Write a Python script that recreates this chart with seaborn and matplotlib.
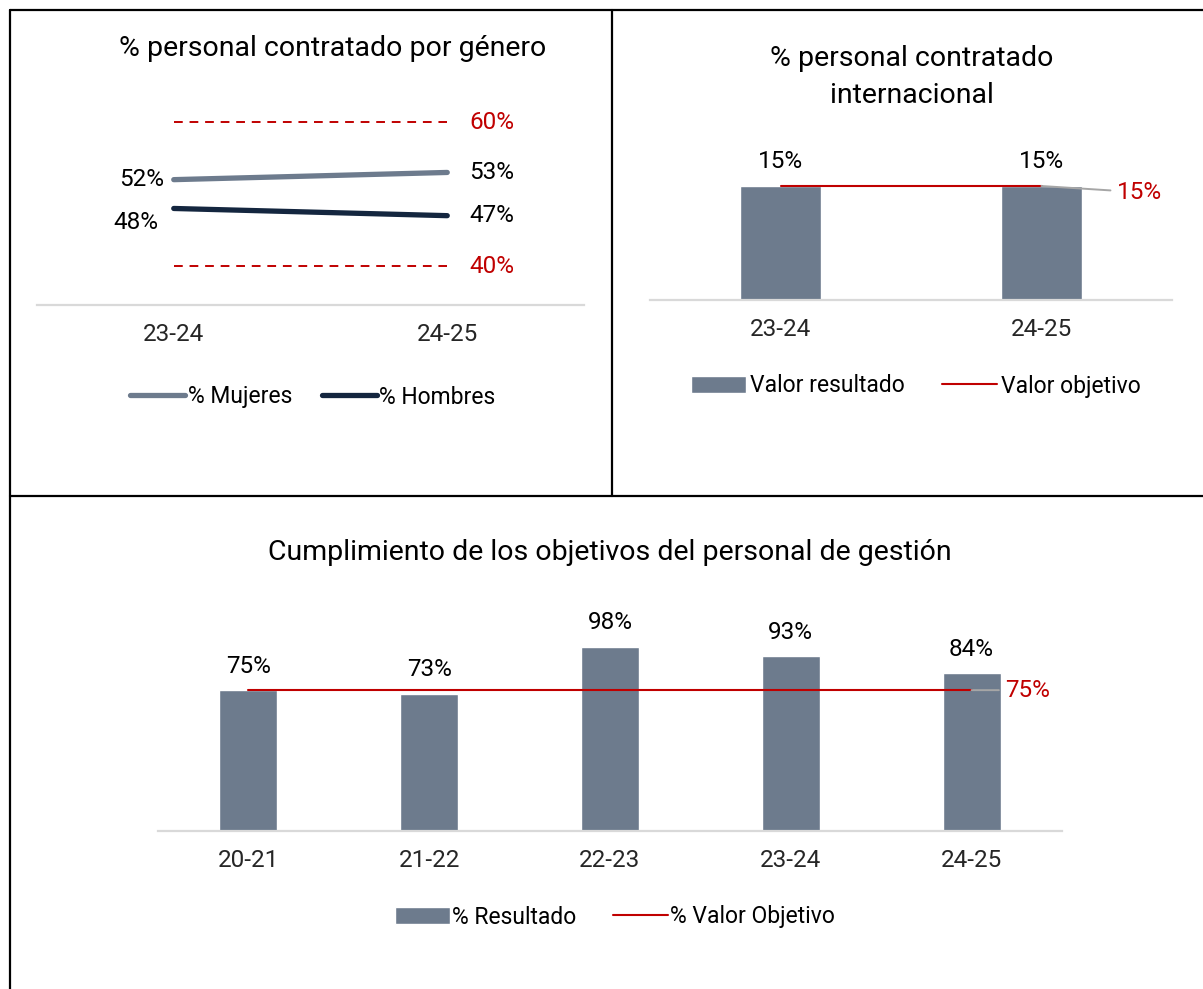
import pandas as pd
import matplotlib.pyplot as plt
import seaborn as sns
from matplotlib.lines import Line2D

# --- datos ---
cursos_genero = ["23-24", "24-25"]
pct_mujeres = [52, 53]
pct_hombres = [48, 47]
limite_sup = [60, 60]
limite_inf = [40, 40]

cursos_int = ["23-24", "24-25"]
int_resultado = [15, 15]
int_objetivo = [15, 15]

cursos_gestion = ["20-21", "21-22", "22-23", "23-24", "24-25"]
gestion_resultado = [75, 73, 98, 93, 84]
gestion_objetivo = [75, 75, 75, 75, 75]

GRIS = "#6D7B8D"
AZUL = "#14263F"
ROJO = "#C00000"
EJE = "#D9D9D9"
GUIA = "#A6A6A6"

FS_TIT = 20.5
FS_TXT = 17.5
FS_LEY = 16.5

sns.set_style("white")
plt.rcParams["font.family"] = ["Roboto", "DejaVu Sans"]
plt.rcParams["text.color"] = "black"

W, H = 1203, 989
fig = plt.figure(figsize=(W / 100, H / 100), dpi=100)


def fx(px):
    return px / W


def fy(py):
    return 1 - py / H


def caja(x0, y0, x1, y1):
    return [fx(x0), fy(y1), (x1 - x0) / W, (y1 - y0) / H]


def limpiar(ax):
    sns.despine(ax=ax, left=True)
    ax.spines["bottom"].set_color(EJE)
    ax.spines["bottom"].set_linewidth(1.6)
    ax.set_yticks([])
    ax.set_xlabel("")
    ax.set_ylabel("")
    ax.tick_params(axis="x", length=0, pad=13, labelsize=FS_TXT)


# marcos de la tabla
for x0, y0, x1, y1 in [(10, 10, 1203, 10), (10, 10, 10, 989), (612, 10, 612, 496), (10, 496, 1203, 496)]:
    fig.add_artist(Line2D([fx(x0), fx(x1)], [fy(y0), fy(y1)], color="black", lw=1.6))

# --- panel 1: genero ---
ax1 = fig.add_axes(caja(37, 86, 584, 305))
genero = pd.DataFrame({
    "curso": cursos_genero * 2,
    "pct": pct_mujeres + pct_hombres,
    "serie": ["% Mujeres"] * 2 + ["% Hombres"] * 2,
})
sns.lineplot(data=genero, x="curso", y="pct", hue="serie",
             palette={"% Mujeres": GRIS, "% Hombres": AZUL},
             linewidth=3.8, solid_capstyle="round", sort=False, ax=ax1)
ax1.plot(cursos_genero, limite_sup, color=ROJO, lw=1.4, ls=(0, (4.5, 3.5)))
ax1.plot(cursos_genero, limite_inf, color=ROJO, lw=1.4, ls=(0, (4.5, 3.5)))
ax1.set_xlim(-0.5, 1.5)
ax1.set_ylim(34.6, 65)
limpiar(ax1)
ax1.set_xticks([-0.5, 0.5, 1.5], minor=True)
ax1.tick_params(axis="x", which="minor", length=5, width=1.4, color=EJE)

lab = dict(textcoords="offset points", fontsize=FS_TXT, va="center")
ax1.annotate(f"{pct_mujeres[0]}%", (cursos_genero[0], pct_mujeres[0]), xytext=(-7, 0), ha="right", **lab)
ax1.annotate(f"{pct_hombres[0]}%", (cursos_genero[0], pct_hombres[0]), xytext=(-11, -10), ha="right", **lab)
ax1.annotate(f"{pct_mujeres[1]}%", (cursos_genero[1], pct_mujeres[1]), xytext=(16, 0), ha="left", **lab)
ax1.annotate(f"{pct_hombres[1]}%", (cursos_genero[1], pct_hombres[1]), xytext=(16, 0), ha="left", **lab)
ax1.annotate(f"{limite_sup[1]}%", (cursos_genero[1], limite_sup[1]), xytext=(16, 0), ha="left", color=ROJO, **lab)
ax1.annotate(f"{limite_inf[1]}%", (cursos_genero[1], limite_inf[1]), xytext=(16, 0), ha="left", color=ROJO, **lab)

h, l = ax1.get_legend_handles_labels()
for hh in h:
    hh.set_solid_capstyle("round")
ax1.legend(h, l, loc="center", bbox_to_anchor=(fx(313), fy(397)), bbox_transform=fig.transFigure,
           ncol=2, frameon=False, fontsize=FS_LEY, handlelength=2.4, handletextpad=0.1, columnspacing=1.3)
fig.text(fx(333), fy(48), "% personal contratado por género", ha="center", va="center", fontsize=FS_TIT)

# --- panel 2: internacional ---
ax2 = fig.add_axes(caja(650, 120, 1172, 300))
inter = pd.DataFrame({"curso": cursos_int, "valor": int_resultado})
sns.barplot(data=inter, x="curso", y="valor", color=GRIS, saturation=1, width=0.314,
            label="Valor resultado", ax=ax2)
ax2.bar_label(ax2.containers[0], labels=[f"{v}%" for v in int_resultado], padding=9, fontsize=FS_TXT)
ax2.plot(cursos_int, int_objetivo, color=ROJO, lw=1.5, label="Valor objetivo")
ax2.annotate(f"{int_objetivo[-1]}%", (cursos_int[-1], int_objetivo[-1]), xytext=(54, -4.5),
             textcoords="offset points", ha="left", va="center", fontsize=FS_TXT, color=ROJO,
             arrowprops=dict(arrowstyle="-", color=GUIA, lw=1.4, shrinkA=2, shrinkB=0))
ax2.set_xlim(-0.5, 1.5)
ax2.set_ylim(0, 15 * 180 / 114)
limpiar(ax2)
h, l = ax2.get_legend_handles_labels()
ax2.legend(h[::-1], l[::-1], loc="center", bbox_to_anchor=(fx(916), fy(386)), bbox_transform=fig.transFigure,
           ncol=2, frameon=False, fontsize=FS_LEY, handlelength=2.4, handletextpad=0.2, columnspacing=1.6)
fig.text(fx(912), fy(77), "% personal contratado\ninternacional", ha="center", va="center",
         fontsize=FS_TIT, linespacing=1.45)

# --- panel 3: gestion ---
ax3 = fig.add_axes(caja(158, 590, 1062, 831))
gestion = pd.DataFrame({"curso": cursos_gestion, "valor": gestion_resultado})
sns.barplot(data=gestion, x="curso", y="valor", color=GRIS, saturation=1, width=0.32,
            label="% Resultado", ax=ax3)
ax3.bar_label(ax3.containers[0], labels=[f"{v}%" for v in gestion_resultado], padding=9, fontsize=FS_TXT)
ax3.plot(cursos_gestion, gestion_objetivo, color=ROJO, lw=1.5, label="% Valor Objetivo")
ax3.annotate(f"{gestion_objetivo[-1]}%", (cursos_gestion[-1], gestion_objetivo[-1]), xytext=(24, 0),
             textcoords="offset points", ha="left", va="center", fontsize=FS_TXT, color=ROJO,
             arrowprops=dict(arrowstyle="-", color=GUIA, lw=1.4, shrinkA=2, shrinkB=0))
ax3.set_xlim(-0.5, 4.5)
ax3.set_ylim(0, 241 / 1.878)
limpiar(ax3)
h, l = ax3.get_legend_handles_labels()
ax3.legend(h[::-1], l[::-1], loc="center", bbox_to_anchor=(fx(615), fy(917)), bbox_transform=fig.transFigure,
           ncol=2, frameon=False, fontsize=FS_LEY, handlelength=2.4, handletextpad=0.1, columnspacing=1.6)
fig.text(fx(610), fy(553), "Cumplimiento de los objetivos del personal de gestión", ha="center",
         va="center", fontsize=FS_TIT)

fig.savefig("out.png", dpi=100, facecolor="white")
